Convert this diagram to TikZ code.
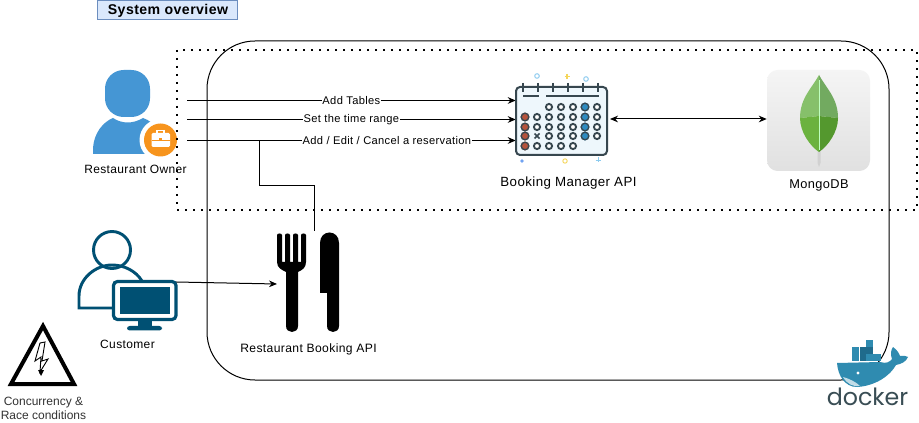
\documentclass[tikz,border=0pt]{standalone}
\usepackage{fontspec}
\setmainfont{Liberation Sans}
\newfontfamily\spacedfont[LetterSpace=3]{Liberation Sans}
\newfontfamily\dockerfont{Poppins}
\usetikzlibrary{arrows.meta,fit,calc,shapes.geometric}
\definecolor{ownerblue}{HTML}{4596D4}
\definecolor{badge}{HTML}{F7941D}
\definecolor{custblue}{HTML}{005073}
\definecolor{calink}{HTML}{37474F}
\definecolor{calfill}{HTML}{EEF7FC}
\definecolor{calred}{HTML}{B5533C}
\definecolor{calblue}{HTML}{2E8BC0}
\definecolor{calsky}{HTML}{8CCBEF}
\definecolor{calyel}{HTML}{F5D65B}
\definecolor{dockblue}{HTML}{2F8BB0}
\definecolor{dockdark}{HTML}{1F6B8C}
\definecolor{docktext}{HTML}{394D54}
\definecolor{titlefill}{HTML}{DAE8FC}
\definecolor{titleline}{HTML}{6C8EBF}
\definecolor{leafa}{HTML}{86C06A}
\definecolor{leafb}{HTML}{72AA60}
\definecolor{leafc}{HTML}{6BB23E}
\definecolor{leafd}{HTML}{54982E}
\tikzset{
  x=0.75pt,y=-0.75pt,
  box/.style={inner sep=0pt,fit={#1}},
  lbl/.style={font=\spacedfont\fontsize{#1}{10pt}\selectfont,text=black,align=center,inner sep=0pt},
  onlbl/.style={font=\spacedfont\fontsize{8.35pt}{10pt}\selectfont,fill=white,inner sep=0.6pt,text=black},
  conn/.style={draw=black,line width=0.75pt},
  arr/.style={conn,-{Stealth[length=6pt,width=5pt]}},
  dbl/.style={conn,{Stealth[length=6pt,width=5pt]}-{Stealth[length=6pt,width=5pt]}},
  ring/.style={draw=calink,line width=1.4pt,fill=white},
}
\newcommand{\calring}[2]{\draw[ring] (#1,#2) circle (3.1);}
\newcommand{\caldot}[3]{\fill[#3] (#1,#2) circle (4.4);\draw[calink,line width=1.0pt] (#1,#2) circle (3.8);}
\begin{document}
\begin{tikzpicture}
\useasboundingbox (0,0) rectangle (919,423);
\fill[white] (0,0) rectangle (919,423);

% title
\fill[titlefill] (97,0) rectangle (237,20);
\draw[titleline,line width=0.75pt] (97,0.5) rectangle (237,20);
\node[font=\spacedfont\bfseries\fontsize{10.6pt}{12pt}\selectfont,inner sep=0pt] (title) at (168,10.5) {System overview};

% docker frame
\draw[black,line width=0.75pt,rounded corners=36pt] (207,41) rectangle (889,380);

% icon holders
\node[box={(93,70)(187,155)}] (owner) {};
\node[box={(516,87)(607,155)}] (cal) {};
\node[box={(767,70)(870,171)}] (mongo) {};
\node[box={(78,232)(177,331)}] (cust) {};
\node[box={(277,233)(339,332)}] (cutlery) {};
\coordinate (o1) at (187,100.5);
\coordinate (o2) at (187,119.5);
\coordinate (o3) at (187,140.5);
\coordinate (j) at (259,140.5);
\coordinate (ct) at (314,231);
\coordinate (cs) at (176,282);
\coordinate (ca) at (277,284);
\coordinate (ml) at (610,119);

% connectors
\draw[arr] (o1) -- (cal.west |- o1) node[onlbl,midway] (l1) {Add Tables};
\draw[arr] (o2) -- (cal.west |- o2) node[onlbl,midway] (l2) {Set the time range};
\draw[arr] (o3) -- (cal.west |- o3) node[onlbl,pos=.608] (l3) {Add / Edit / Cancel a reservation};
\draw[conn] (ct) -- (314,185.5) -- (259,185.5) -- (j);
\draw[dbl] (ml) -- (mongo.west |- ml);
\draw[arr] (cs) -- (ca);

% owner icon
\fill[ownerblue,rounded corners=14pt] (105,70) rectangle (150,117);
\fill[ownerblue] (93,154) -- (93,148) .. controls (94,133) and (103,122) .. (113,118)
  .. controls (122,124) and (133,124) .. (143,118) .. controls (155,122) and (165,135) .. (165,154) -- cycle;
\fill[white] (160.5,140) circle (21);
\fill[badge] (160.5,140) circle (16.5);
\draw[white,line width=1pt] (157,133) -- (157,130.5) -- (164,130.5) -- (164,133);
\fill[white,rounded corners=1pt] (151.5,133) rectangle (170,147);
\draw[badge,line width=0.6pt] (151.5,140) -- (170,140);
\fill[badge] (159,138.5) rectangle (162,141.5);
\node[lbl=9pt] (ownerlbl) at (135.5,169) {Restaurant Owner};

% calendar
\draw[calink,line width=1.5pt,fill=calfill,rounded corners=3pt] (516,87) rectangle (607,155);
\foreach \x in {523,538,553,568,583,598}{\draw[calink,line width=1pt] (\x,83) -- (\x,92);}
\draw[calink,line width=1.3pt] (523,96) -- (539,96);
\draw[calink,line width=1.3pt] (546,96) -- (599,96);
\foreach \x in {549,561,573,597}{\calring{\x}{107}\calring{\x}{117}\calring{\x}{127}\calring{\x}{136}}
\foreach \x in {537}{\calring{\x}{117}\calring{\x}{127}}
\foreach \x in {537,549,561,573}{\calring{\x}{146}}
\foreach \y in {117,127,136,146}{\caldot{525}{\y}{calred}}
\foreach \y in {107,117,127,136}{\caldot{585}{\y}{calblue}}
\draw[calink,line width=1.1pt] (534.5,133.5) -- (539.5,138.5) (534.5,138.5) -- (539.5,133.5);
\draw[calsky,line width=0.7pt] (537,76) circle (2.3);
\draw[calsky,line width=0.7pt] (586,79) circle (2.3);
\draw[calyel,line width=0.9pt] (564.5,76.5) -- (569.5,76.5) (567,74) -- (567,79);
\fill[calsky!80!blue] (522,161) circle (1.8);
\draw[calyel,line width=0.7pt] (565,161) circle (2.2);
\draw[calsky,line width=0.7pt] (595.5,160) -- (600.5,160) (598,157.5) -- (598,162.5);
\node[lbl=10pt] (callbl) at (568.5,183.5) {Booking Manager API};

% mongodb
\shade[top color=black!4,bottom color=black!12,rounded corners=8pt] (767,70) rectangle (870,171);
\fill[black!18] (817.5,135) -- (820.5,135) -- (820.5,163) -- (819,167) -- (817.5,163) -- cycle;
\fill[leafa] (819,75) .. controls (812,88) and (800,98) .. (800,118) -- (819,116) -- cycle;
\fill[leafb] (819,75) .. controls (826,88) and (838,98) .. (838,118) -- (819,116) -- cycle;
\fill[leafc] (800,118) .. controls (800,132) and (810,146) .. (819,152) -- (819,116) -- cycle;
\fill[leafd] (838,118) .. controls (838,132) and (828,146) .. (819,152) -- (819,116) -- cycle;
\draw[white!75!green,line width=0.6pt] (819,80) -- (819,150);
\node[lbl=9.6pt] (mongolbl) at (819,185) {MongoDB};

% customer
\draw[custblue,line width=2.2pt] (112,250) circle (18.5);
\draw[custblue,line width=2.2pt] (113,308) -- (79,308) -- (79,296) .. controls (79,278) and (96,265) .. (112,265) .. controls (124,265) and (136,271) .. (142,281);
\fill[custblue] (138,319) rectangle (152,328);
\fill[custblue,rounded corners=2pt] (127,326) rectangle (162,330.5);
\draw[custblue,line width=2.4pt,fill=white,rounded corners=3pt] (113.5,281.5) rectangle (176,319.5);
\fill[custblue] (120,287) rectangle (169.5,314);
\node[lbl=9pt] (custlbl) at (127.5,344.5) {Customer};

% cutlery
\fill[black] (277,235) .. controls (277,233) and (282,233) .. (282,235) -- (282,262) -- (285,262) -- (285,235)
  .. controls (285,233) and (290,233) .. (290,235) -- (290,262) -- (293,262) -- (293,235)
  .. controls (293,233) and (298,233) .. (298,235) -- (298,262) -- (301,262) -- (301,235)
  .. controls (301,233) and (306,233) .. (306,235) -- (306,262) .. controls (306,268) and (302,270) .. (298,272)
  -- (298,326) .. controls (298,334) and (286,334) .. (286,326) -- (286,272) .. controls (282,270) and (277,268) .. (277,262) -- cycle;
\fill[black] (320,293) -- (320,243) .. controls (320,229) and (339,229) .. (339,243)
  -- (339,326) .. controls (339,334) and (327,334) .. (327,326) -- (327,293) -- cycle;
\node[lbl=9.1pt] (cutlerylbl) at (308.5,349) {Restaurant Booking API};

% warning
\draw[black,line width=3pt,miter limit=10] (43,326) -- (74,384) -- (11,384) -- cycle;
\draw[black,line width=0.7pt,fill=white,line join=miter] (40,343) -- (35,361) -- (41,357) -- (40,372) -- (48,359) -- (42,361) -- (45,342) -- cycle;
\fill[black] (38,370) -- (44,370) -- (41,376) -- cycle;
\node[font=\fontsize{9pt}{10.5pt}\selectfont,align=center,text=black!80,inner sep=0pt] (warnlbl) at (43.5,408) {Concurrency \&\\Race conditions};

% docker logo
\foreach \x/\y/\c in {852/354/dockblue,859.5/354/dockdark,866/354/dockblue,852/347/dockblue,859.5/347/dockdark,866/347/dockdark,866/340/dockblue}{
  \fill[\c] (\x,\y) rectangle ++(7,6.6);}
\fill[dockblue] (873,354) rectangle (881,361);
\fill[dockblue] (837,363) -- (880,362) .. controls (886,364) and (890,362) .. (892,359)
  .. controls (890,354) and (891,350) .. (893,347) .. controls (897,350) and (899,353) .. (900,356)
  .. controls (903,355) and (906,356) .. (908,357) .. controls (906,362) and (901,364) .. (896,365)
  .. controls (890,376) and (875,386) .. (857,387) .. controls (845,387) and (838,376) .. (837,363) -- cycle;
\fill[white!70!dockblue] (843,377) .. controls (850,379) and (856,382) .. (860,386) .. controls (853,387) and (847,384) .. (843,377) -- cycle;
\fill[white] (858,373) circle (1.6);
\node[font=\dockerfont\fontsize{17.8pt}{20pt}\selectfont,text=docktext,inner sep=0pt] (dockerlbl) at (867.5,397) {docker};

% dotted overlay
\draw[black,line width=1.5pt,dash pattern=on 1.5pt off 4.5pt] (177,50) rectangle (917,210);
\end{tikzpicture}
\end{document}
